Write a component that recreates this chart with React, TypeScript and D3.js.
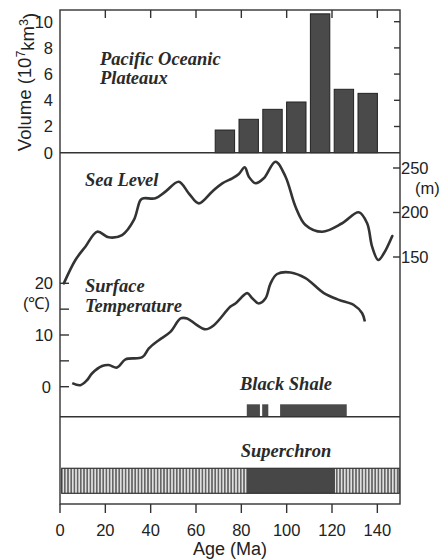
import React, { useEffect, useRef } from 'react';
import * as d3 from 'd3';

// Pacific oceanic plateaux volume, bins of 10.5 Myr starting at 67.5 Ma
const binStarts = [67.5, 78, 88.5, 99, 109.5, 120, 130.5];
const binWidth = 10.5;
const volumes = [1.73, 2.55, 3.31, 3.87, 10.6, 4.84, 4.53];

// sea level curve [age, m]
const seaLevel: [number, number][] = [
  [1.7, 120.4], [6.8, 146.6], [11.2, 161.6], [16.4, 178.4], [21.5, 172.1],
  [27.4, 174.7], [32.6, 191.6], [35.5, 214], [37, 216], [42.1, 216],
  [46.5, 223.4], [52.4, 234.6], [56.8, 221.6], [61.2, 210.3], [67.1, 223.4],
  [71.6, 232.8], [76, 238.4], [78.9, 243.3], [81.5, 250.8], [83.3, 240.2],
  [86.3, 232.8], [89.9, 238.4], [95.1, 257.1], [99.5, 240.2], [103.9, 206.5],
  [108.3, 186], [115.7, 178.4], [124.5, 187.9], [131.8, 200.2], [135.5, 187.9],
  [137.7, 161.6], [140.4, 146.6], [142.9, 154.2], [146.6, 173.6],
];

// surface temperature curve [age, degC]
const temperature: [number, number][] = [
  [5.4, 0.7], [9, 0.3], [12, 1.3], [14.2, 2.6], [18.6, 4.0], [21.5, 4.2],
  [25.2, 3.7], [28.9, 5.3], [36.3, 5.7], [39.2, 7.4], [43.6, 9.0], [48.7, 10.6],
  [53.2, 13.2], [56.1, 13.2], [59.8, 12.1], [64.2, 11.1], [67.9, 11.9],
  [75.2, 15.5], [77.4, 16.1], [82.6, 18.1], [84.8, 17.1], [87.7, 16.1],
  [90.7, 17.1], [92.9, 20.0], [95.8, 21.8], [101.7, 22.1], [108.3, 21.0],
  [116.4, 18.1], [123, 16.8], [129.6, 15.8], [133.3, 14.2], [134.5, 12.6],
];

const blackShale: [number, number][] = [[82.4, 88.2], [89.2, 91.9], [97.1, 126.5]];
const superchron: [number, number] = [82.4, 121.3];

const ageTicks = [0, 20, 40, 60, 80, 100, 120, 140];
const volumeTicks = [0, 2, 4, 6, 8, 10];
const seaTicks = [150, 200, 250];
const tempTicks = [0, 5, 10, 15, 20];
const tempLabels = [0, 10, 20];

const ink = '#333';
const sans = '"Liberation Sans", Arial, sans-serif';
const serif = '"Liberation Serif", serif';

export default function App() {
  const svgRef = useRef<SVGSVGElement>(null);

  useEffect(() => {
    if (!svgRef.current) return;
    const svg = d3.select(svgRef.current);
    svg.selectAll('*').remove();

    const left = 60, right = 400, top = 10, bottom = 504;
    const x = d3.scaleLinear().domain([0, 150]).range([left, right]);
    const yVol = d3.scaleLinear().domain([0, 10]).range([152.7, 21.7]);
    const ySea = d3.scaleLinear().domain([150, 250]).range([257, 168]);
    const yTemp = d3.scaleLinear().domain([0, 20]).range([386.7, 283.3]);
    const shaleBase = 416.7;

    const defs = svg.append('defs');
    const pat = defs.append('pattern')
      .attr('id', 'stripes')
      .attr('patternUnits', 'userSpaceOnUse')
      .attr('width', 3.2)
      .attr('height', 10);
    pat.append('rect').attr('width', 3.2).attr('height', 10).attr('fill', '#e0e0e0');
    pat.append('line')
      .attr('x1', 0.8).attr('x2', 0.8).attr('y1', 0).attr('y2', 10)
      .attr('stroke', '#2e2e2e').attr('stroke-width', 1.1);

    // Bars
    svg.append('g').selectAll('rect')
      .data(volumes)
      .enter()
      .append('rect')
      .attr('x', (_d, i) => x(binStarts[i]) + 2.2)
      .attr('width', (_d, i) => x(binStarts[i] + binWidth) - x(binStarts[i]) - 4.4)
      .attr('y', d => yVol(d))
      .attr('height', d => yVol(0) - yVol(d))
      .attr('fill', '#4a4a4a')
      .attr('stroke', '#222')
      .attr('stroke-width', 1);

    // Black shale
    svg.append('g').selectAll('rect')
      .data(blackShale)
      .enter()
      .append('rect')
      .attr('x', d => x(d[0]))
      .attr('width', d => x(d[1]) - x(d[0]))
      .attr('y', shaleBase - 12.4)
      .attr('height', 12.4)
      .attr('fill', '#4a4a4a');

    // Superchron bar
    const scTop = 468.3, scBot = 493.3;
    svg.append('rect')
      .attr('x', left + 1.7).attr('width', right - left - 2.5)
      .attr('y', scTop).attr('height', scBot - scTop)
      .attr('fill', 'url(#stripes)');
    svg.append('rect')
      .attr('x', x(superchron[0])).attr('width', x(superchron[1]) - x(superchron[0]))
      .attr('y', scTop).attr('height', scBot - scTop)
      .attr('fill', '#474747');
    svg.append('rect')
      .attr('x', left + 1.7).attr('width', right - left - 2.5)
      .attr('y', scTop).attr('height', scBot - scTop)
      .attr('fill', 'none').attr('stroke', ink).attr('stroke-width', 1.2);

    // Curves
    const line = d3.line<[number, number]>().curve(d3.curveCatmullRom.alpha(0.5));
    svg.append('path')
      .attr('d', line.x(d => x(d[0])).y(d => ySea(d[1]))(seaLevel))
      .attr('fill', 'none').attr('stroke', ink).attr('stroke-width', 2.6)
      .attr('stroke-linecap', 'round');
    svg.append('path')
      .attr('d', line.x(d => x(d[0])).y(d => yTemp(d[1]))(temperature))
      .attr('fill', 'none').attr('stroke', ink).attr('stroke-width', 2.6)
      .attr('stroke-linecap', 'butt');

    // Frame
    const frame = svg.append('g').attr('stroke', ink).attr('stroke-width', 1.4).attr('fill', 'none');
    frame.append('rect').attr('x', left).attr('y', top).attr('width', right - left).attr('height', bottom - top);
    frame.append('line').attr('x1', left).attr('x2', right).attr('y1', yVol(0)).attr('y2', yVol(0));
    frame.append('line').attr('x1', left).attr('x2', right).attr('y1', shaleBase).attr('y2', shaleBase);

    // Age ticks: top inward, bottom outward
    frame.selectAll('line.top')
      .data(ageTicks.filter(d => d > 0))
      .enter().append('line')
      .attr('x1', d => x(d)).attr('x2', d => x(d))
      .attr('y1', top).attr('y2', top + 8);
    frame.selectAll('line.bottom')
      .data(ageTicks)
      .enter().append('line')
      .attr('x1', d => x(d)).attr('x2', d => x(d))
      .attr('y1', bottom).attr('y2', bottom + 9);

    // Volume ticks on right, inward
    frame.selectAll('line.vol')
      .data(volumeTicks.filter(d => d > 0))
      .enter().append('line')
      .attr('x1', right - 6).attr('x2', right)
      .attr('y1', d => yVol(d)).attr('y2', d => yVol(d));
    // Sea level ticks on right, inward
    frame.selectAll('line.sea')
      .data(seaTicks)
      .enter().append('line')
      .attr('x1', right - 7).attr('x2', right)
      .attr('y1', d => ySea(d)).attr('y2', d => ySea(d));
    // Temperature ticks on left, inward
    frame.selectAll('line.temp')
      .data(tempTicks)
      .enter().append('line')
      .attr('x1', left).attr('x2', left + 9)
      .attr('y1', d => yTemp(d)).attr('y2', d => yTemp(d));

    // Axis labels
    const lab = svg.append('g').attr('fill', '#222').style('font-family', sans).style('font-size', '16.5px');
    lab.selectAll('text.age')
      .data(ageTicks)
      .enter().append('text')
      .attr('x', d => x(d)).attr('y', 536)
      .attr('text-anchor', 'middle')
      .text(d => d);
    lab.selectAll('text.vol')
      .data(volumeTicks)
      .enter().append('text')
      .attr('x', 53).attr('y', d => yVol(d)).attr('dy', '0.36em')
      .attr('text-anchor', 'end')
      .text(d => d);
    lab.selectAll('text.temp')
      .data(tempLabels)
      .enter().append('text')
      .attr('x', d => (d === 0 ? 51 : 53)).attr('y', d => yTemp(d)).attr('dy', '0.36em')
      .attr('text-anchor', 'end')
      .text(d => d);
    lab.selectAll('text.sea')
      .data(seaTicks)
      .enter().append('text')
      .attr('x', 401).attr('y', d => ySea(d)).attr('dy', '0.36em')
      .attr('text-anchor', 'start')
      .text(d => d);
    lab.append('text').attr('x', 415).attr('y', 194).text('(m)');
    lab.append('text').attr('x', 50).attr('y', 309).attr('text-anchor', 'end').text('(℃)');

    lab.append('text')
      .attr('x', x(75)).attr('y', 555)
      .attr('text-anchor', 'middle')
      .style('font-size', '18px')
      .text('Age (Ma)');

    const vt = lab.append('text')
      .attr('transform', 'translate(31,82) rotate(-90)')
      .attr('text-anchor', 'middle')
      .style('font-size', '18.5px');
    vt.append('tspan').text('Volume (10');
    vt.append('tspan').attr('dy', '-0.45em').style('font-size', '12.5px').text('7');
    vt.append('tspan').attr('dy', '0.45em').text('km');
    vt.append('tspan').attr('dy', '-0.45em').style('font-size', '12.5px').text('3');
    vt.append('tspan').attr('dy', '0.45em').text(')');

    // Panel titles
    const ttl = svg.append('g').attr('fill', '#2a2a2a')
      .style('font-family', serif).style('font-style', 'italic')
      .style('font-weight', 'bold').style('font-size', '18.5px');
    ttl.append('text').attr('x', 100).attr('y', 65).text('Pacific Oceanic');
    ttl.append('text').attr('x', 100).attr('y', 84).text('Plateaux');
    ttl.append('text').attr('x', 85).attr('y', 186).text('Sea Level');
    ttl.append('text').attr('x', 85).attr('y', 291.5).text('Surface');
    ttl.append('text').attr('x', 85).attr('y', 311.5).text('Temperature');
    ttl.append('text').attr('x', 286).attr('y', 390).attr('text-anchor', 'middle').text('Black Shale');
    ttl.append('text').attr('x', 286).attr('y', 457).attr('text-anchor', 'middle').text('Superchron');
  }, []);

  return (
    <svg
      ref={svgRef}
      width={448}
      height={560}
      viewBox="0 0 448 560"
      style={{ position: 'absolute', left: 0, top: 0, background: '#fff' }}
    />
  );
}
